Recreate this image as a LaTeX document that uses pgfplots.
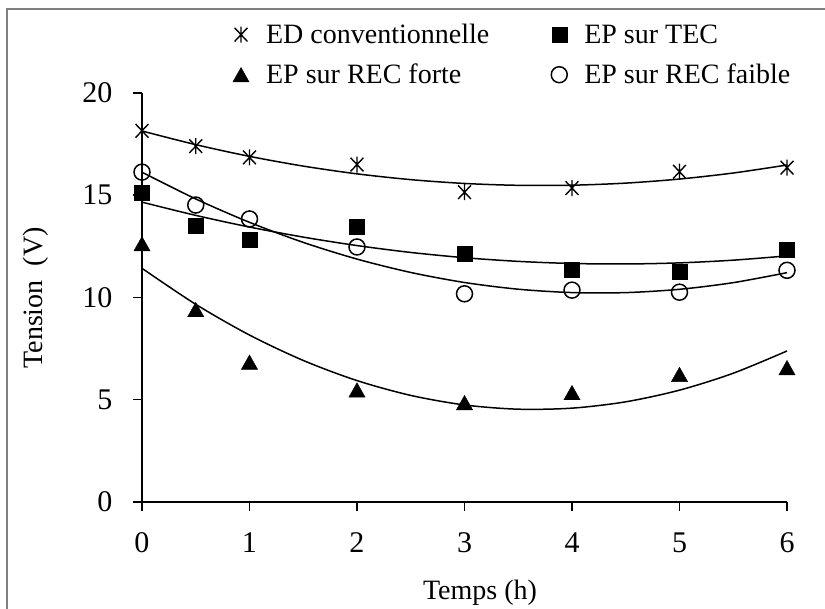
\documentclass[border=0pt]{standalone}
\usepackage{fontspec}
\setmainfont{Liberation Serif}
\usepackage{pgfplots}
\pgfplotsset{compat=1.18}
\pgfdeclareplotmark{xstar}{%
  \pgfpathmoveto{\pgfqpoint{0pt}{\pgfplotmarksize}}%
  \pgfpathlineto{\pgfqpoint{0pt}{-\pgfplotmarksize}}%
  \pgfpathmoveto{\pgfqpoint{-0.8\pgfplotmarksize}{0.85\pgfplotmarksize}}%
  \pgfpathlineto{\pgfqpoint{0.8\pgfplotmarksize}{-0.85\pgfplotmarksize}}%
  \pgfpathmoveto{\pgfqpoint{0.8\pgfplotmarksize}{0.85\pgfplotmarksize}}%
  \pgfpathlineto{\pgfqpoint{-0.8\pgfplotmarksize}{-0.85\pgfplotmarksize}}%
  \pgfusepathqstroke}
\pgfdeclareplotmark{etri}{%
  \pgfpathmoveto{\pgfqpoint{0pt}{0.8\pgfplotmarksize}}%
  \pgfpathlineto{\pgfqpoint{0.9\pgfplotmarksize}{-0.8\pgfplotmarksize}}%
  \pgfpathlineto{\pgfqpoint{-0.9\pgfplotmarksize}{-0.8\pgfplotmarksize}}%
  \pgfpathclose
  \pgfusepathqfillstroke}
\newcommand{\bigf}{\fontsize{28}{34}\selectfont}
\newcommand{\tickf}{\fontsize{30}{36}\selectfont}
\begin{document}
\begin{tikzpicture}[x=1pt,y=1pt]
\begin{scope}[shift={(-142,-107)}]
\path[use as bounding box] (0,0) rectangle (825,609);
\draw[black!50, line width=1.5pt] (7,600) rectangle (845,-30);
\node[font=\bigf] at (480,16) {Temps (h)};
\node[font=\bigf, rotate=90] at (36,311) {Tension\ \ (V)};
\end{scope}
\begin{axis}[
  scale only axis, width=645pt, height=409pt,
  xmin=0, xmax=6, ymin=0, ymax=20,
  clip=false,
  axis lines*=left,
  axis line style={line width=1.5pt, -},
  tick align=outside, major tick length=9pt,
  tick style={line width=1.5pt, black},
  xtick={0,1,2,3,4,5,6}, ytick={0,5,10,15,20},
  /pgf/number format/assume math mode=true,
  tick label style={font=\tickf},
  yticklabel style={xshift=-17pt},
  xticklabel style={yshift=-18pt},
  legend columns=2,
  legend cell align=left,
  legend style={draw=none, fill=none, font=\bigf,
    at={(axis cs:0.816,23.57)}, anchor=north west,
    /tikz/every odd column/.append style={column sep=15pt},
    /tikz/every even column/.append style={column sep=60pt},
    row sep=15pt},
]
\addplot[only marks, mark=xstar, mark size=8pt, line width=1.4pt, black] coordinates {
(0,18.15) (0.5,17.4) (1,16.85) (2,16.5) (3,15.15) (4,15.35) (5,16.15) (6,16.35)};
\addlegendentry{ED conventionnelle}
\addplot[only marks, mark=square*, mark size=7.5pt, black] coordinates {
(0,15.1) (0.5,13.5) (1,12.85) (2,13.45) (3,12.15) (4,11.35) (5,11.25) (6,12.35)};
\addlegendentry{EP sur TEC}
\addplot[only marks, mark=etri, mark size=9pt, black] coordinates {
(0,12.63) (0.5,9.41) (1,6.84) (2,5.48) (3,4.86) (4,5.35) (5,6.24) (6,6.57)};
\addlegendentry{EP sur REC forte}
\addplot[only marks, mark=o, mark size=8pt, line width=1.5pt, black] coordinates {
(0,16.13) (0.5,14.52) (1,13.84) (2,12.47) (3,10.18) (4,10.36) (5,10.26) (6,11.33)};
\addlegendentry{EP sur REC faible}
% polynomial trendlines (order 2), sampled
\addplot[smooth, line width=1.5pt, black, forget plot] coordinates {
(0,18.142) (0.5,17.474) (1,16.901) (1.5,16.425) (2,16.046) (2.5,15.763) (3,15.576) (3.5,15.485) (4,15.491) (4.5,15.593) (5,15.792) (5.5,16.087) (6,16.478)};
\addplot[smooth, line width=1.5pt, black, forget plot] coordinates {
(0,14.662) (0.5,14.015) (1,13.445) (1.5,12.953) (2,12.539) (2.5,12.203) (3,11.946) (3.5,11.766) (4,11.663) (4.5,11.639) (5,11.693) (5.5,11.825) (6,12.034)};
\addplot[smooth, line width=1.5pt, black, forget plot] coordinates {
(0,16.126) (0.5,14.819) (1,13.676) (1.5,12.695) (2,11.878) (2.5,11.224) (3,10.733) (3.5,10.405) (4,10.241) (4.5,10.239) (5,10.401) (5.5,10.726) (6,11.214)};
\addplot[smooth, line width=1.5pt, black, forget plot] coordinates {
(0,11.427) (0.5,9.666) (1,8.164) (1.5,6.921) (2,5.937) (2.5,5.212) (3,4.745) (3.5,4.538) (4,4.589) (4.5,4.899) (5,5.469) (5.5,6.297) (6,7.384)};
\end{axis}
\end{tikzpicture}
\end{document}
